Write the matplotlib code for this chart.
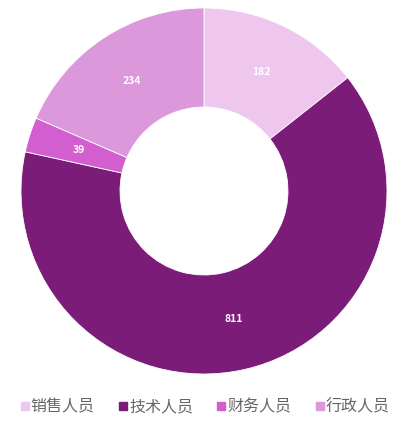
import matplotlib.pyplot as plt
from matplotlib.lines import Line2D

plt.rcParams['font.family'] = ['Noto Sans CJK SC', 'DejaVu Sans']

categories = ["销售人员", "技术人员", "财务人员", "行政人员"]
values = [182, 811, 39, 234]
colors = ["#EEC6EE", "#7A1C78", "#D35ECF", "#DB98DB"]

W, H = 418, 429
fig = plt.figure(figsize=(W / 100, H / 100), dpi=100, facecolor="white")
ax = fig.add_axes([0, 0, 1, 1])

R = 183
wedges, texts = ax.pie(values, colors=colors, labels=[str(v) for v in values],
                       startangle=90, counterclock=False, radius=R,
                       center=(204, H - 191), labeldistance=0.72,
                       wedgeprops=dict(width=R - 84, edgecolor="white", linewidth=0.6),
                       textprops=dict(color="white", fontsize=7.5, fontweight="bold"),
                       frame=True)
for t in texts:
    t.set_ha("center")
    t.set_va("center")
ax.set_xlim(0, W)
ax.set_ylim(0, H)
ax.set_aspect('auto')
ax.axis('off')

handles = [Line2D([0], [0], marker='s', linestyle='', markersize=6,
                  markerfacecolor=c, markeredgecolor=c) for c in colors]
fig.legend(handles, categories, loc='center', bbox_to_anchor=(0.49, 1 - 407 / H),
           ncol=4, frameon=False, fontsize=11.5, handletextpad=0.1,
           columnspacing=1.45, labelcolor="#666666", handlelength=0.6)

plt.savefig('out.png', dpi=100)
